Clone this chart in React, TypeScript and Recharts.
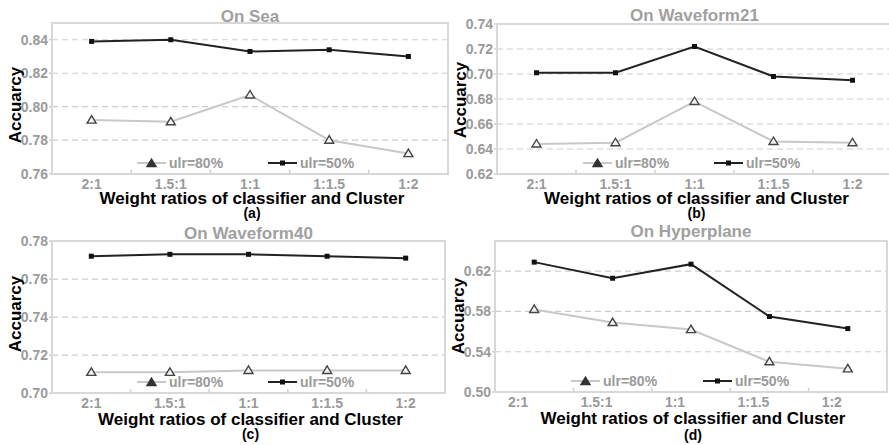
import React from "react"
import { LineChart, Line, XAxis, YAxis, CartesianGrid } from "recharts"

const categories = ["2:1", "1.5:1", "1:1", "1:1.5", "1:2"]
const seriesNames = ["ulr=80%", "ulr=50%"]

const seaUlr80 = [0.792, 0.791, 0.807, 0.78, 0.772]
const seaUlr50 = [0.839, 0.84, 0.833, 0.834, 0.83]
const seaTicks = [0.76, 0.78, 0.8, 0.82, 0.84]

const wf21Ulr80 = [0.644, 0.645, 0.678, 0.646, 0.645]
const wf21Ulr50 = [0.701, 0.701, 0.722, 0.698, 0.695]
const wf21Ticks = [0.62, 0.64, 0.66, 0.68, 0.7, 0.72, 0.74]

const wf40Ulr80 = [0.711, 0.711, 0.712, 0.712, 0.712]
const wf40Ulr50 = [0.772, 0.773, 0.773, 0.772, 0.771]
const wf40Ticks = [0.7, 0.72, 0.74, 0.76, 0.78]

const hypUlr80 = [0.582, 0.569, 0.562, 0.53, 0.523]
const hypUlr50 = [0.629, 0.613, 0.627, 0.575, 0.563]
const hypTicks = [0.5, 0.54, 0.58, 0.62]

const FONT = '"Liberation Sans", Arial, Helvetica, sans-serif'
const GRAY_TEXT = "#9a9a9a"
const LIGHT_LINE = "#c8c8c8"
const DARK_LINE = "#222"

type Box = { x0: number; y0: number; x1: number; y1: number }

interface PanelProps {
    box: Box
    u80: number[]
    u50: number[]
    domain: [number, number]
    ticks: number[]
    title: string
    sub: string
    titleY: number
    labelY: number
    subY: number
    yLabelY: number
    legendDx: [number, number]
    tickDx?: number
}

const Triangle = ({ cx, cy, fill, stroke }: { cx: number; cy: number; fill: string; stroke: string }) => (
    <path d={`M${cx},${cy - 4.5} L${cx + 4.5},${cy + 3} L${cx - 4.5},${cy + 3} Z`} fill={fill} stroke={stroke} strokeWidth={1.4} />
)

const Text = ({ x, y, size, color, children, rotate }: { x: number; y: number; size: number; color: string; children: React.ReactNode; rotate?: boolean }) => (
    <div
        style={{
            position: "absolute",
            left: x,
            top: y,
            transform: `translate(-50%, -50%)${rotate ? " rotate(-90deg)" : ""}`,
            fontFamily: FONT,
            fontWeight: 700,
            fontSize: size,
            lineHeight: 1,
            color,
            whiteSpace: "nowrap",
        }}
    >
        {children}
    </div>
)

const LegendItem = ({ x, y, kind, name }: { x: number; y: number; kind: "tri" | "sq"; name: string }) => (
    <div style={{ position: "absolute", left: x, top: y - 7, display: "flex", alignItems: "center", height: 14 }}>
        <svg width={29} height={12}>
            <line x1={0} y1={6} x2={29} y2={6} stroke={kind === "tri" ? LIGHT_LINE : DARK_LINE} strokeWidth={2} />
            {kind === "tri" ? (
                <Triangle cx={14.5} cy={6.5} fill="#333" stroke="#333" />
            ) : (
                <rect x={12} y={3.5} width={5} height={5} fill="#111" />
            )}
        </svg>
        <span style={{ marginLeft: 3, fontFamily: FONT, fontWeight: 700, fontSize: 14, color: GRAY_TEXT, lineHeight: 1 }}>{name}</span>
    </div>
)

const Panel = ({ box, u80, u50, domain, ticks, title, sub, titleY, labelY, subY, yLabelY, legendDx, tickDx = 0 }: PanelProps) => {
    const data = categories.map((c, i) => ({ ratio: c, u80: u80[i], u50: u50[i] }))
    const plotW = box.x1 - box.x0
    const plotH = box.y1 - box.y0
    const band = plotW / categories.length
    const top = 24
    const yAxisW = 52
    const cx = (box.x0 + box.x1) / 2

    const renderTick = (props: { x: number; y: number; payload: { value: string; index: number } }) => {
        const { x, payload } = props
        const bottom = top + plotH
        return (
            <g key={`t-${payload.value}`}>
                {payload.index < categories.length - 1 && (
                    <line x1={x + band / 2} y1={bottom} x2={x + band / 2} y2={bottom - 4} stroke="#cfcfcf" strokeWidth={1.5} />
                )}
                <text x={x + tickDx} y={bottom + 15} textAnchor="middle" fontFamily={FONT} fontWeight={700} fontSize={14} fill={GRAY_TEXT}>
                    {payload.value}
                </text>
            </g>
        )
    }

    return (
        <>
            <div style={{ position: "absolute", left: box.x0 - yAxisW, top: box.y0 - top }}>
                <LineChart
                    width={plotW + yAxisW + 6}
                    height={plotH + top + 40}
                    data={data}
                    margin={{ top, right: 6, left: 0, bottom: 20 }}
                >
                    <CartesianGrid horizontal vertical={false} stroke="#cdcdcd" strokeDasharray="6 4" strokeWidth={1.2} />
                    <XAxis dataKey="ratio" scale="band" interval={0} axisLine={false} tickLine={false} height={20} tick={renderTick} />
                    <YAxis
                        width={yAxisW}
                        domain={domain}
                        ticks={ticks}
                        allowDataOverflow
                        axisLine={false}
                        tickSize={3}
                        tickMargin={1}
                        tickLine={{ stroke: "#cfcfcf", strokeWidth: 1.5 }}
                        tickFormatter={(v: number) => v.toFixed(2)}
                        tick={{ fontFamily: FONT, fontWeight: 700, fontSize: 14, fill: GRAY_TEXT }}
                    />
                    <Line
                        dataKey="u80"
                        name={seriesNames[0]}
                        stroke={LIGHT_LINE}
                        strokeWidth={2}
                        isAnimationActive={false}
                        dot={(p: { cx: number; cy: number; index: number }) => (
                            <Triangle key={`a-${p.index}`} cx={p.cx} cy={p.cy} fill="#f4f4f4" stroke="#444" />
                        )}
                        activeDot={false}
                    />
                    <Line
                        dataKey="u50"
                        name={seriesNames[1]}
                        stroke={DARK_LINE}
                        strokeWidth={2}
                        isAnimationActive={false}
                        dot={(p: { cx: number; cy: number; index: number }) => (
                            <rect key={`b-${p.index}`} x={p.cx - 2.5} y={p.cy - 2.5} width={5} height={5} fill="#111" />
                        )}
                        activeDot={false}
                    />
                </LineChart>
            </div>
            <div
                style={{
                    position: "absolute",
                    left: box.x0 - 1,
                    top: box.y0 - 1,
                    width: plotW + 2,
                    height: plotH + 2,
                    border: "2px solid #d8d8d8",
                    boxSizing: "border-box",
                    pointerEvents: "none",
                }}
            />
            <LegendItem x={box.x0 + legendDx[0]} y={box.y1 - 11} kind="tri" name={seriesNames[0]} />
            <LegendItem x={box.x0 + legendDx[1]} y={box.y1 - 11} kind="sq" name={seriesNames[1]} />
            <Text x={cx} y={titleY} size={17} color="#a0a0a0">{title}</Text>
            <Text x={cx + 2} y={labelY} size={17} color="#000">Weight ratios of classifier and Cluster</Text>
            <Text x={cx + 2} y={subY} size={14} color="#000">{sub}</Text>
            <Text x={box.x0 - 37} y={yLabelY} size={17} color="#000" rotate>Accuarcy</Text>
        </>
    )
}

export default function App() {
    return (
        <div style={{ position: "absolute", left: 0, top: 0, width: 889, height: 445, overflow: "hidden", background: "#fff" }}>
            <Panel
                box={{ x0: 52, y0: 23.3, x1: 448, y1: 174 }}
                u80={seaUlr80}
                u50={seaUlr50}
                domain={[0.76, 0.85]}
                ticks={seaTicks}
                title="On Sea"
                sub="(a)"
                titleY={16}
                labelY={198}
                subY={213}
                yLabelY={105}
                legendDx={[85, 216]}
            />
            <Panel
                box={{ x0: 497, y0: 24, x1: 892, y1: 174 }}
                u80={wf21Ulr80}
                u50={wf21Ulr50}
                domain={[0.62, 0.74]}
                ticks={wf21Ticks}
                title="On Waveform21"
                sub="(b)"
                titleY={15}
                labelY={198}
                subY={213}
                yLabelY={100}
                legendDx={[86, 217]}
            />
            <Panel
                box={{ x0: 52, y0: 241, x1: 445, y1: 393.3 }}
                u80={wf40Ulr80}
                u50={wf40Ulr50}
                domain={[0.7, 0.78]}
                ticks={wf40Ticks}
                title="On Waveform40"
                sub="(c)"
                titleY={233}
                labelY={419}
                subY={434}
                yLabelY={314}
                legendDx={[85, 216]}
            />
            <Panel
                box={{ x0: 495, y0: 241, x1: 887, y1: 392 }}
                u80={hypUlr80}
                u50={hypUlr50}
                domain={[0.5, 0.65]}
                ticks={hypTicks}
                title="On Hyperplane"
                sub="(d)"
                titleY={231}
                labelY={418}
                subY={435}
                yLabelY={316}
                legendDx={[76, 208]}
                tickDx={-16}
            />
        </div>
    )
}
